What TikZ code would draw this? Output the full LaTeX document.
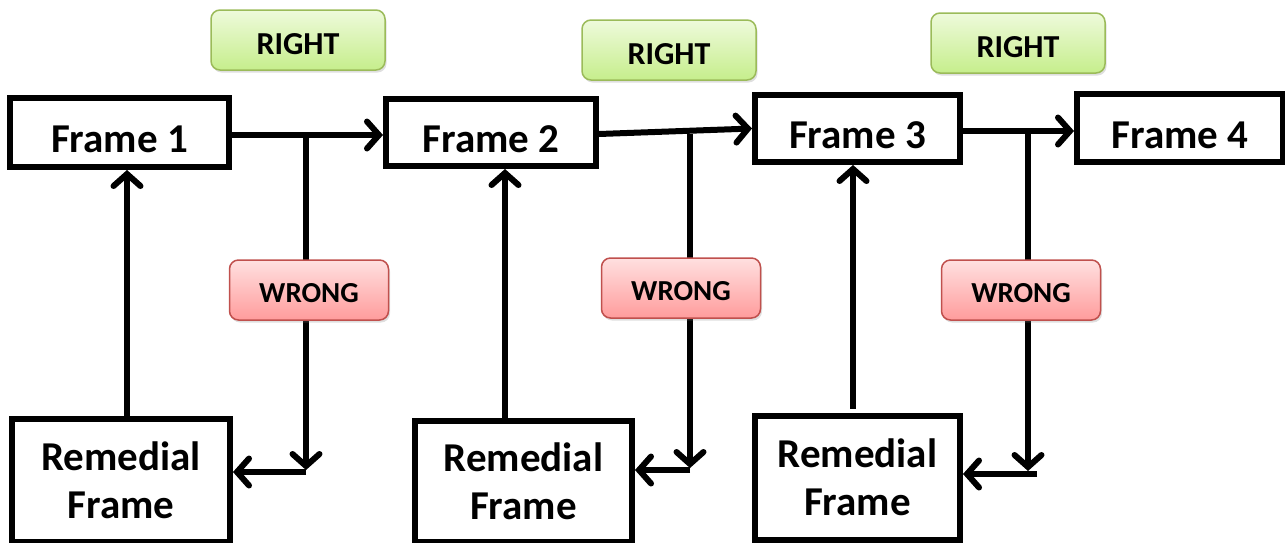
\documentclass[tikz,border=0pt]{standalone}
\usepackage{fontspec}
\setmainfont{Carlito}
\usetikzlibrary{arrows.meta,shadows}
\definecolor{gborder}{HTML}{9BBB59}
\definecolor{gtop}{HTML}{EEFADB}
\definecolor{gbot}{HTML}{C6EE8C}
\definecolor{rborder}{HTML}{C0504D}
\definecolor{rtop}{HTML}{FFE0E0}
\definecolor{rbot}{HTML}{FF9C9C}
\tikzset{
  framebox/.style={draw=black, line width=6pt, fill=white, inner sep=0pt,
    font=\fontsize{41}{48}\selectfont\bfseries, align=center},
  rightlbl/.style={draw=gborder, line width=1.5pt, rounded corners=9pt,
    top color=gtop, bottom color=gbot, minimum width=174pt, minimum height=60pt,
    font=\fontsize{32}{36}\selectfont\bfseries,
    drop shadow={shadow xshift=1.5pt, shadow yshift=-2.5pt, opacity=0.25}},
  wronglbl/.style={draw=rborder, line width=1.5pt, rounded corners=9pt,
    top color=rtop, bottom color=rbot, minimum width=159pt, minimum height=60pt,
    font=\fontsize{29}{34}\selectfont\bfseries,
    drop shadow={shadow xshift=1.5pt, shadow yshift=-2.5pt, opacity=0.25}},
  arr/.style={line width=6pt, -{Straight Barb[length=12pt,width=27pt,line cap=round]}},
}
\newcommand{\lowtxt}[2]{\raisebox{-#1}[\height][0pt]{#2}}
\begin{document}
\begin{tikzpicture}[x=1pt,y=-1pt]
\useasboundingbox (0,0) rectangle (1285,542);

% frames
\node[framebox, minimum width=219pt, minimum height=69pt] (f1) at (119.5,132.5) {\lowtxt{7pt}{Frame 1}};
\node[framebox, minimum width=210pt, minimum height=67pt] (f2) at (491,132.5) {\lowtxt{7pt}{Frame 2}};
\node[framebox, minimum width=205pt, minimum height=67pt] (f3) at (857.5,128.5) {\lowtxt{7pt}{Frame 3}};
\node[framebox, minimum width=206pt, minimum height=68pt] (f4) at (1180,128) {\lowtxt{7pt}{Frame 4}};

% remedial frames
\node[framebox, minimum width=218pt, minimum height=123pt] (r1) at (121,480) {Remedial\\Frame};
\node[framebox, minimum width=217pt, minimum height=121pt] (r2) at (523.5,481) {Remedial\\Frame};
\node[framebox, minimum width=205pt, minimum height=124pt] (r3) at (857.5,477.5) {Remedial\\Frame};

% branch points
\coordinate (b1) at (306,135);
\coordinate (d1) at (306,470);
\coordinate (h1) at (306,472);
\coordinate (b2) at (690,134);
\coordinate (d2) at (690,468);
\coordinate (h2) at (690,470);
\coordinate (b3) at (1028,131);
\coordinate (d3) at (1028,471);
\coordinate (h3) at (1037,474);

% main flow
\draw[arr] (f1.east |- b1) -- (f2.west |- b1);
\draw[arr] (f2.east |- b2) -- (f3.west);
\draw[arr] (f3.east |- b3) -- (f4.west |- b3);

\draw[arr] (b1) -- (d1);
\draw[arr] (h1) -- (h1 -| r1.east);
\draw[arr] (b2) -- (d2);
\draw[arr] (h2) -- (h2 -| r2.east);
\draw[arr] (b3) -- (d3);
\draw[arr] (h3) -- (h3 -| r3.east);

% return arrows
\draw[arr] ([xshift=6pt]r1.north) -- ([xshift=6pt]r1.north |- f1.south);
\draw[arr] ([xshift=-18.5pt]r2.north) -- ([xshift=-18.5pt]r2.north |- f2.south);
\draw[arr] ([xshift=-4.5pt,yshift=4pt]r3.north) -- ([xshift=-4.5pt]r3.north |- f3.south);

% labels
\node[rightlbl] (g1) at (298,40) {\lowtxt{4pt}{RIGHT}};
\node[rightlbl] (g2) at (669,50) {\lowtxt{4pt}{RIGHT}};
\node[rightlbl] (g3) at (1018,43) {\lowtxt{4pt}{RIGHT}};
\node[wronglbl] (w1) at (309,290) {\lowtxt{3pt}{WRONG}};
\node[wronglbl] (w2) at (681,288) {\lowtxt{3pt}{WRONG}};
\node[wronglbl] (w3) at (1021,290) {\lowtxt{3pt}{WRONG}};
\end{tikzpicture}
\end{document}
